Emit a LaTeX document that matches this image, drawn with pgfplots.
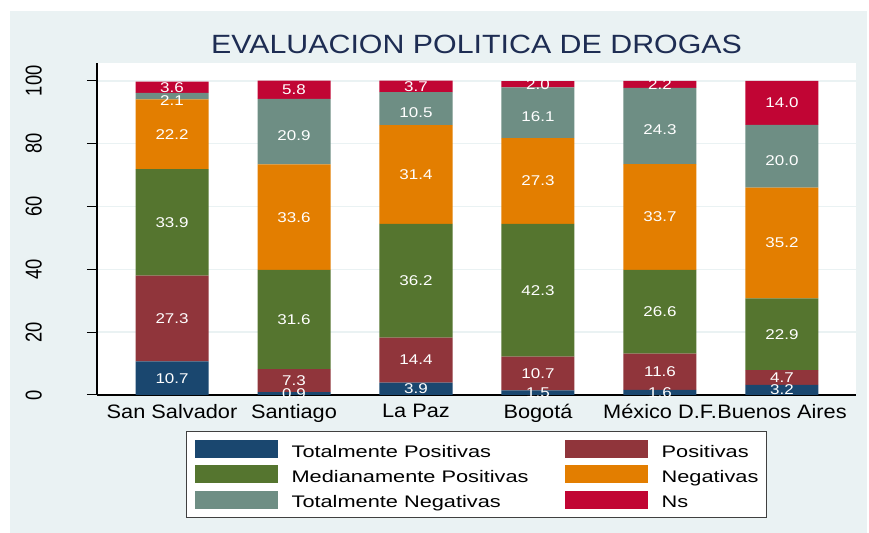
\documentclass[border=0pt]{standalone}
\usepackage{fontspec}
\setmainfont{Liberation Sans}[FakeStretch=1.12]
\newfontfamily\ytfont{Liberation Sans}[FakeStretch=0.8]
\newfontfamily\legfont{Liberation Sans}[FakeStretch=1.3]
\newfontfamily\barfont{Liberation Sans}[FakeStretch=1.2]
\newfontfamily\titfont{Liberation Sans}[FakeStretch=1.15]
\usepackage{pgfplots}
\usepackage{pgfplotstable}
\pgfplotsset{compat=1.18}

\definecolor{c1}{HTML}{1A476F}
\definecolor{c2}{HTML}{90353B}
\definecolor{c3}{HTML}{55752F}
\definecolor{c4}{HTML}{E37E00}
\definecolor{c5}{HTML}{6E8E84}
\definecolor{c6}{HTML}{C10534}
\definecolor{bgc}{HTML}{EAF2F3}
\definecolor{gridc}{HTML}{EAF2F3}
\definecolor{titc}{HTML}{1E2D53}
\definecolor{legc}{HTML}{404040}

% evaluation shares per city (%)
\pgfplotstableread{
x tp pos med neg tneg ns
0 10.7 27.3 33.9 22.2 2.1 3.6
1 0.9 7.3 31.6 33.6 20.9 5.8
2 3.9 14.4 36.2 31.4 10.5 3.7
3 1.5 10.7 42.3 27.3 16.1 2.0
4 1.6 11.6 26.6 33.7 24.3 2.2
5 3.2 4.7 22.9 35.2 20.0 14.0
}\datatable

\pgfplotsset{
  sw/.style={legend image code/.code={\fill[##1] (0bp,-6bp) rectangle (83bp,12bp);}},
  geom/.style={
    at={(97bp,138bp)}, anchor=south west,
    scale only axis, width=759bp, height=332bp,
    xmin=-0.615, xmax=5.607, ymin=0, ymax=105.7,
  },
}

\begin{document}
\begin{tikzpicture}
\fill[white] (0,0) rectangle (869bp,533bp);
\fill[bgc] (10bp,0) rectangle (867bp,522bp);

\begin{axis}[
  geom,
  ybar stacked, bar width=73bp,
  axis x line=bottom, axis y line=left,
  axis line style={-, black, line width=1.1bp},
  axis background/.style={fill=white},
  xtick={0,...,5},
  xticklabels={San Salvador, Santiago, La Paz, Bogotá, México D.F., Buenos Aires},
  xticklabel style={font=\fontsize{19.5}{22}\selectfont, inner sep=0pt, anchor=north, yshift=1bp},
  xtick style={draw=none},
  ytick={0,20,...,100},
  ytick style={black, line width=1bp},
  tick align=outside, major tick length=10bp,
  yticklabel style={font=\ytfont\fontsize{23}{25}\selectfont, rotate=90, anchor=south, inner sep=0pt},
  yticklabel shift=45bp,
  /pgf/number format/assume math mode=true,
  ymajorgrids, major grid style={gridc, line width=1.5bp},
  title={EVALUACION POLITICA DE DROGAS},
  every axis title/.style={at={(0.5,1)}, anchor=base, yshift=9bp,
    font=\titfont\fontsize{26.5}{30}\selectfont, text=titc},
  legend columns=2,
  legend cell align=left,
  legend style={
    at={(0.5,-0.1084)}, anchor=north,
    draw=legc, line width=0.8bp, fill=white,
    font=\legfont\fontsize{16.8}{19}\selectfont,
    inner xsep=8bp, inner ysep=8.5bp,
    row sep=6.5bp,
    /tikz/every odd column/.append style={column sep=14bp},
    /tikz/every even column/.append style={column sep=36bp},
    nodes={inner sep=0pt},
  },
]
\addplot[fill=c1, draw=none, sw] table[x=x, y=tp] {\datatable};
\addlegendentry{Totalmente Positivas}
\addplot[fill=c2, draw=none, sw] table[x=x, y=pos] {\datatable};
\addlegendentry{Positivas}
\addplot[fill=c3, draw=none, sw] table[x=x, y=med] {\datatable};
\addlegendentry{Medianamente Positivas}
\addplot[fill=c4, draw=none, sw] table[x=x, y=neg] {\datatable};
\addlegendentry{Negativas}
\addplot[fill=c5, draw=none, sw] table[x=x, y=tneg] {\datatable};
\addlegendentry{Totalmente Negativas}
\addplot[fill=c6, draw=none, sw] table[x=x, y=ns] {\datatable};
\addlegendentry{Ns}
\end{axis}

% value labels, centred in each segment
\begin{axis}[
  geom, hide axis, clip=false,
  nodes near coords, point meta=explicit symbolic,
  nodes near coords align={center},
  every node near coord/.append style={anchor=center, text=white, inner sep=0pt,
    font=\barfont\fontsize{14.2}{16}\selectfont},
]
\addplot[draw=none] table[x=x, y expr=\thisrow{tp}/2, meta=tp] {\datatable};
\addplot[draw=none] table[x=x, y expr=\thisrow{tp}+\thisrow{pos}/2, meta=pos] {\datatable};
\addplot[draw=none] table[x=x, y expr=\thisrow{tp}+\thisrow{pos}+\thisrow{med}/2, meta=med] {\datatable};
\addplot[draw=none] table[x=x, y expr=\thisrow{tp}+\thisrow{pos}+\thisrow{med}+\thisrow{neg}/2, meta=neg] {\datatable};
\addplot[draw=none, every node near coord/.append style={yshift=-4bp}] table[x=x, y expr=\thisrow{tp}+\thisrow{pos}+\thisrow{med}+\thisrow{neg}+\thisrow{tneg}/2, meta=tneg] {\datatable};
\addplot[draw=none] table[x=x, y expr=\thisrow{tp}+\thisrow{pos}+\thisrow{med}+\thisrow{neg}+\thisrow{tneg}+\thisrow{ns}/2, meta=ns] {\datatable};
\end{axis}
\end{tikzpicture}
\end{document}
